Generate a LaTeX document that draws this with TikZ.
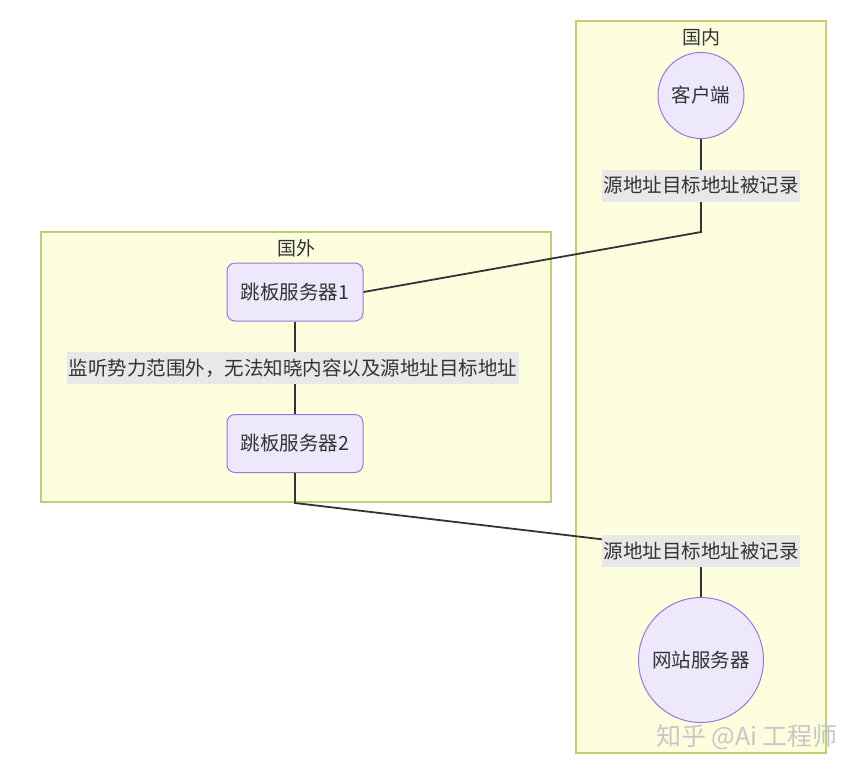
\documentclass[tikz,border=0pt]{standalone}
\usepackage{fontspec}
\newfontfamily\cjkfont{Noto Sans CJK SC}
\definecolor{clfill}{HTML}{FCFEDE}
\definecolor{cldraw}{HTML}{C4CC78}
\definecolor{ndfill}{HTML}{EEE8FC}
\definecolor{nddraw}{HTML}{A274D2}
\definecolor{txt}{HTML}{333333}
\definecolor{lblbg}{HTML}{E8E8E8}
\tikzset{
  cluster/.style={draw=cldraw, fill=clfill, line width=1.4pt},
  ctitle/.style={text=txt, font=\cjkfont\fontsize{19}{22}\selectfont},
  roundnode/.style={draw=nddraw, fill=ndfill, line width=1pt, rounded corners=8pt,
    minimum width=136pt, minimum height=58pt, text=txt, font=\cjkfont\fontsize{19.5}{22}\selectfont},
  circnode/.style={circle, draw=nddraw, fill=ndfill, line width=1pt, inner sep=0pt,
    text=txt, font=\cjkfont\fontsize{19.5}{22}\selectfont},
  elabel/.style={fill=lblbg, inner sep=1.5pt, minimum height=32pt, text=txt,
    font=\cjkfont\fontsize{19.5}{22}\selectfont},
  link/.style={draw=txt, line width=1.8pt},
}
\begin{document}
\begin{tikzpicture}[x=1pt, y=-1pt]
\useasboundingbox (0,0) rectangle (864,772);
\fill[white] (0,0) rectangle (864,772);

% clusters
\draw[cluster] (576,21) rectangle (826,753);
\node[ctitle] (tin) at (701,37) {国内};
\draw[cluster] (41,232) rectangle (551,502);
\node[ctitle] (tout) at (296,248) {国外};

% nodes
\node[circnode, minimum size=86pt] (client) at (701,95.5) {客户端};
\node[roundnode] (jump1) at (295,292) {跳板服务器1};
\node[roundnode] (jump2) at (295,443.5) {跳板服务器2};
\node[circnode, minimum size=125pt] (web) at (701,660) {网站服务器};

% corner points of the routed edges
\coordinate (c1) at (701,232);
\coordinate (c2) at (295,503);
\coordinate (m2) at (701,551);

% edges
\draw[link] (client.south) -- (c1) -- (jump1.east);
\draw[link] (jump1.south) -- (jump2.north);
\draw[link] (jump2.south) -- (c2) -- (m2) -- (web.north);

% edge labels
\node[elabel] (l1) at (701,185.5) {源地址目标地址被记录};
\node[elabel] (l2) at (293,368) {监听势力范围外，无法知晓内容以及源地址目标地址};
\node[elabel] (l3) at (701,551) {源地址目标地址被记录};

% watermark
\node[text=black!22, font=\cjkfont\fontsize{25}{28}\selectfont] (wm) at (747,737) {知乎 @Ai 工程师};
\end{tikzpicture}
\end{document}
